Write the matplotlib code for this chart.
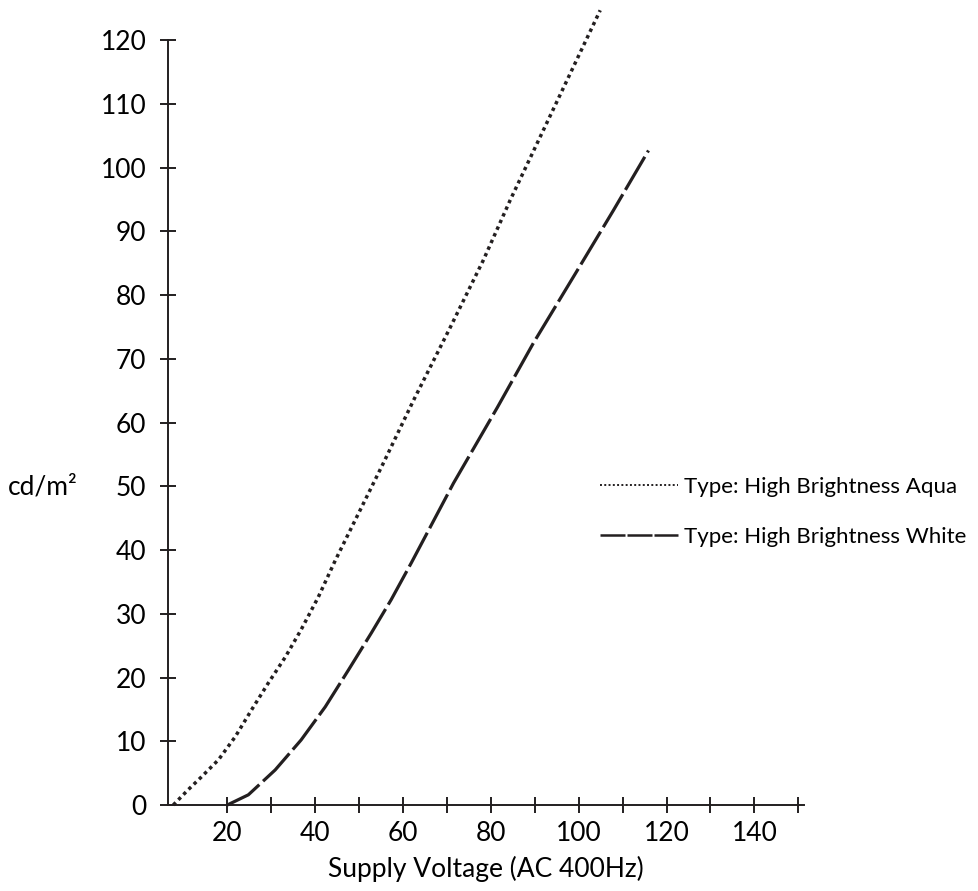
import matplotlib
matplotlib.use('Agg')
import matplotlib.pyplot as plt
from matplotlib.lines import Line2D

# Brightness vs supply voltage
aqua_v = [7.7, 11.1, 14.1, 18.0, 21.8, 25.5, 29.3, 33.2, 36.8, 40.7, 44.6,
          55.5, 62.4, 70.8, 78.3, 84.4, 104.9]
aqua_l = [0.0, 2.4, 4.4, 7.1, 10.7, 14.9, 19.1, 23.2, 27.5, 32.6, 38.4,
          53.6, 63.5, 75.0, 85.5, 94.9, 124.7]

white_v = [20.0, 24.8, 30.9, 36.8, 42.3, 47.6, 52.8, 57.3, 61.9,
           71.5, 81.5, 89.7, 99.7, 107.9, 115.9]
white_l = [0.0, 1.6, 5.5, 10.2, 15.4, 21.2, 27.0, 32.2, 38.0,
           50.5, 62.4, 72.5, 83.9, 93.3, 102.7]

x_ticks = list(range(20, 151, 10))
x_labels = ['20', '', '40', '', '60', '', '80', '', '100', '', '120', '', '140', '']
y_ticks = list(range(0, 121, 10))

labels = ['Type: High Brightness Aqua', 'Type: High Brightness White']

ink = '#231f20'
plt.rcParams['font.family'] = ['Lato', 'DejaVu Sans']

fig = plt.figure(figsize=(9.79, 8.91), dpi=100)
ax = fig.add_axes([168 / 979, 86 / 891, 636 / 979, 803 / 891])

ax.plot(aqua_v, aqua_l, color=ink, lw=2.5, dashes=(1, 1.1),
        dash_capstyle='butt', clip_on=False)
ax.plot(white_v, white_l, color=ink, lw=2.3, dashes=(12, 1.6),
        dash_capstyle='butt', clip_on=False)

ax.set_xlim(6.5, 151.3)
ax.set_ylim(0, 126)

for s in ['top', 'right']:
    ax.spines[s].set_visible(False)
for s in ['left', 'bottom']:
    ax.spines[s].set_linewidth(1.4)
    ax.spines[s].set_color(ink)
ax.spines['left'].set_bounds(0, 120)

ax.set_xticks(x_ticks)
ax.set_xticklabels(x_labels)
ax.set_yticks(y_ticks)
ax.tick_params(direction='inout', length=11, width=1.4, color=ink,
               labelsize=19, labelcolor='black')
ax.tick_params(axis='x', pad=6)
ax.tick_params(axis='y', pad=10)

ax.set_xlabel('Supply Voltage (AC 400Hz)', fontsize=19, labelpad=7)
fig.text(8 / 979, 1 - 487 / 891, 'cd/m²', fontsize=19, va='center', ha='left')

handles = [Line2D([], [], color=ink, lw=1.4, dashes=(1, 1.2)),
           Line2D([], [], color=ink, lw=1.8, dashes=(10, 0.8))]
ax.legend(handles, labels, loc='center left', frameon=False,
          bbox_to_anchor=(600 / 979, 1 - 512 / 891), bbox_transform=fig.transFigure,
          fontsize=16, handlelength=3.5, handletextpad=0.3, labelspacing=1.35,
          borderpad=0, borderaxespad=0)

fig.savefig('out.png', dpi=100)
